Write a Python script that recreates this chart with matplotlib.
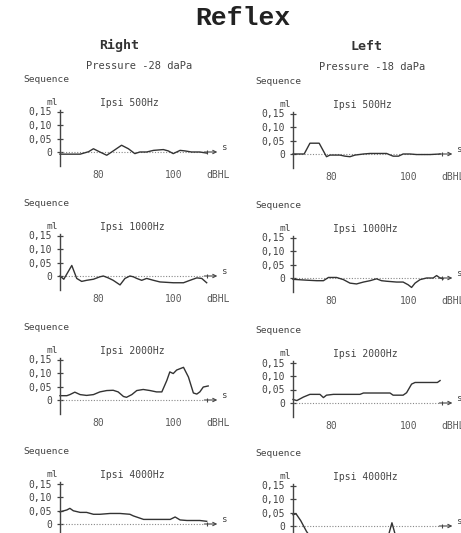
import matplotlib
matplotlib.use('Agg')
import matplotlib.pyplot as plt

W, H = 461, 533
INK = '#444444'
MONO = 'DejaVu Sans Mono'

# readings (dBHL vs ml), right ear
r500_x = [70, 75.3, 77.5, 78.8, 80.5, 82.3, 83.6, 86.2, 88, 89.7, 91, 92.8, 94.6, 97.2,
          98.5, 99.8, 101.6, 102.9, 104.6, 106.8, 108.6]
r500_y = [-0.008, -0.008, 0.001, 0.012, 0.0, -0.012, 0.0, 0.025, 0.012, -0.006, 0.0, 0.0,
          0.006, 0.009, 0.004, -0.006, 0.006, 0.004, 0.0, 0.0, -0.004]
r1000_x = [70, 71, 73.1, 74.4, 75.7, 77, 78.8, 80.5, 81.4, 82.7, 84, 85.8, 87.1, 88.4, 89.3,
           90.2, 91.5, 92.8, 94.6, 96.3, 99.8, 102.5, 104.2, 106, 107.3, 108.6]
r1000_y = [0.0, -0.012, 0.039, -0.009, -0.02, -0.016, -0.012, -0.003, 0.0, -0.007, -0.016,
           -0.033, -0.009, 0.0, -0.003, -0.009, -0.016, -0.009, -0.016, -0.022, -0.025,
           -0.025, -0.016, -0.007, -0.009, -0.025]
r2000_x = [70, 71.8, 72.6, 73.9, 75.3, 77, 78.8, 80.5, 82.3, 84, 85.3, 86.7, 87.5, 88.9, 90.2,
           91.9, 93.7, 95.4, 96.8, 98.1, 98.9, 99.8, 100.7, 102.5, 103.8, 105.1, 106, 106.8,
           107.7, 109]
r2000_y = [0.016, 0.016, 0.02, 0.029, 0.02, 0.017, 0.02, 0.03, 0.035, 0.036, 0.03, 0.013, 0.01,
           0.02, 0.035, 0.039, 0.035, 0.03, 0.03, 0.072, 0.104, 0.098, 0.111, 0.121, 0.085,
           0.026, 0.022, 0.03, 0.048, 0.052]
r4000_x = [70, 71.8, 72.6, 73.5, 75.3, 77, 78.8, 80.5, 83.2, 85.8, 88.4, 89.3, 92, 94.6, 97.2,
           99, 100.3, 101.6, 103.4, 106.8, 108.6]
r4000_y = [0.045, 0.052, 0.058, 0.049, 0.043, 0.043, 0.036, 0.036, 0.039, 0.039, 0.036, 0.03,
           0.017, 0.017, 0.017, 0.017, 0.026, 0.015, 0.013, 0.013, 0.01]

# left ear
l500_x = [70, 72.9, 74.4, 76.8, 78.7, 79.6, 82.2, 83.5, 84.8, 86.1, 88.3, 90, 94.3, 96, 97.4,
          98.6, 100.4, 102.1, 105.6, 108.2]
l500_y = [0.0, 0.0, 0.04, 0.04, -0.01, -0.004, -0.004, -0.008, -0.01, -0.004, 0.0, 0.002,
          0.002, -0.008, -0.008, 0.0, 0.0, -0.002, -0.002, 0.0]
l1000_x = [70, 73.5, 76.2, 77.9, 79.2, 81.3, 83.1, 84.8, 86.5, 88.3, 90, 91.7, 93, 94.3, 96.9,
           98.6, 99.9, 100.8, 101.7, 103, 104.7, 106.4, 107.3, 108.2, 109]
l1000_y = [-0.005, -0.008, -0.01, -0.01, 0.002, 0.002, -0.006, -0.019, -0.022, -0.015, -0.01,
           -0.003, -0.01, -0.012, -0.015, -0.015, -0.025, -0.035, -0.019, -0.006, 0.0, 0.0,
           0.009, 0.0, -0.003]
l2000_x = [70, 71, 72.7, 74.4, 77, 77.9, 78.7, 80.5, 83.9, 87.4, 88.3, 95.2, 96, 98.6, 99.5,
           100.8, 101.7, 105.6, 107.5, 108.2]
l2000_y = [0.013, 0.009, 0.022, 0.032, 0.032, 0.02, 0.029, 0.032, 0.032, 0.032, 0.037, 0.037,
           0.029, 0.029, 0.038, 0.07, 0.076, 0.076, 0.076, 0.083]
l4000_x = [70, 70.8, 72, 73.5, 75, 94.5, 95.7, 96.9, 100, 108]
l4000_y = [0.042, 0.045, 0.02, -0.02, -0.05, -0.05, 0.012, -0.05, -0.05, -0.05]

freqs = ['500Hz', '1000Hz', '2000Hz', '4000Hz']
ytick_vals = [0, 0.05, 0.10, 0.15]
ytick_labels = ['0', '0,05', '0,10', '0,15']
xtick_vals = [80, 100, 111.7]
xtick_labels = ['80', '100', 'dBHL']

XMIN, XMAX = 68, 114
YMIN, YMAX = -0.06, 0.18
PX_PER_Y = 270

# column: (y-axis pixel, px per dB, zero line pixels per row)
columns = {
    'right': (60, 3.8, [152, 276, 400, 524]),
    'left': (293, 3.85, [154, 278, 403, 526]),
}
curves = {
    'right': [(r500_x, r500_y), (r1000_x, r1000_y), (r2000_x, r2000_y), (r4000_x, r4000_y)],
    'left': [(l500_x, l500_y), (l1000_x, l1000_y), (l2000_x, l2000_y), (l4000_x, l4000_y)],
}


def rect(axis_px, px_per_x, zero_px):
    left = axis_px - (70 - XMIN) * px_per_x
    width = (XMAX - XMIN) * px_per_x
    bottom = zero_px - YMIN * PX_PER_Y
    height = (YMAX - YMIN) * PX_PER_Y
    return [left / W, 1 - bottom / H, width / W, height / H]


def draw_panel(ax, xs, ys, freq, show_x=True):
    ax.set_xlim(XMIN, XMAX)
    ax.set_ylim(YMIN, YMAX)
    ax.patch.set_alpha(0)
    for side in ['top', 'right', 'bottom']:
        ax.spines[side].set_visible(False)
    ax.spines['left'].set_position(('data', 70))
    ax.spines['left'].set_bounds(-0.05, 0.157)
    ax.spines['left'].set_color(INK)
    ax.spines['left'].set_linewidth(1.0)
    ax.set_yticks(ytick_vals)
    ax.set_yticklabels(ytick_labels, family=MONO, fontsize=7, color=INK)
    ax.tick_params(axis='y', direction='inout', length=5, width=0.9, pad=3, color=INK)
    if show_x:
        ax.set_xticks(xtick_vals)
        ax.set_xticklabels(xtick_labels, family=MONO, fontsize=7, color='#5a5a5a')
    else:
        # bottom row: the labels fall below the page
        ax.set_xticks([])
    ax.tick_params(axis='x', length=0, pad=1)

    # dotted zero line and arrow
    ax.hlines(0, 70, 108, colors='#888888', linestyles=(0, (1, 1.5)), linewidth=0.8)
    ax.vlines(108.7, -0.006, 0.006, colors=INK, linewidth=0.8)
    ax.annotate('', xy=(111.4, 0), xytext=(108, 0),
                arrowprops=dict(arrowstyle='->', color=INK, lw=0.8,
                                shrinkA=0, shrinkB=0, mutation_scale=6))
    ax.text(113.0, 0.018, 's', family=MONO, fontsize=6.5, color=INK, ha='center', va='center')

    ax.plot(xs, ys, color='#333333', linewidth=1.0)

    ax.text(60.3, 0.267, 'Sequence', family=MONO, fontsize=6.8, color=INK,
            ha='left', va='center')
    ax.text(68, 0.183, 'ml', family=MONO, fontsize=6.8, color=INK, ha='center', va='center')
    ax.text(80.5, 0.183, 'Ipsi ' + freq, family=MONO, fontsize=7, color=INK,
            ha='left', va='center')


fig = plt.figure(figsize=(W / 100, H / 100), dpi=100)

for side, (axis_px, px_per_x, zeros) in columns.items():
    for row, freq in enumerate(freqs):
        ax = fig.add_axes(rect(axis_px, px_per_x, zeros[row]))
        xs, ys = curves[side][row]
        draw_panel(ax, xs, ys, freq, show_x=(row < len(freqs) - 1))

fig.text(243 / W, 1 - 18 / H, 'Reflex', family='Liberation Mono', fontweight='bold',
         fontsize=19, color='#222222', ha='center', va='center')
fig.text(119 / W, 1 - 45 / H, 'Right', family=MONO, fontweight='bold', fontsize=9.5,
         color='#333333', ha='center', va='center')
fig.text(366 / W, 1 - 46 / H, 'Left', family=MONO, fontweight='bold', fontsize=9.5,
         color='#333333', ha='center', va='center')
fig.text(139 / W, 1 - 66 / H, 'Pressure -28 daPa', family=MONO, fontsize=7.5,
         color=INK, ha='center', va='center')
fig.text(372 / W, 1 - 67 / H, 'Pressure -18 daPa', family=MONO, fontsize=7.5,
         color=INK, ha='center', va='center')

fig.savefig('out.png', dpi=100, facecolor='white')
